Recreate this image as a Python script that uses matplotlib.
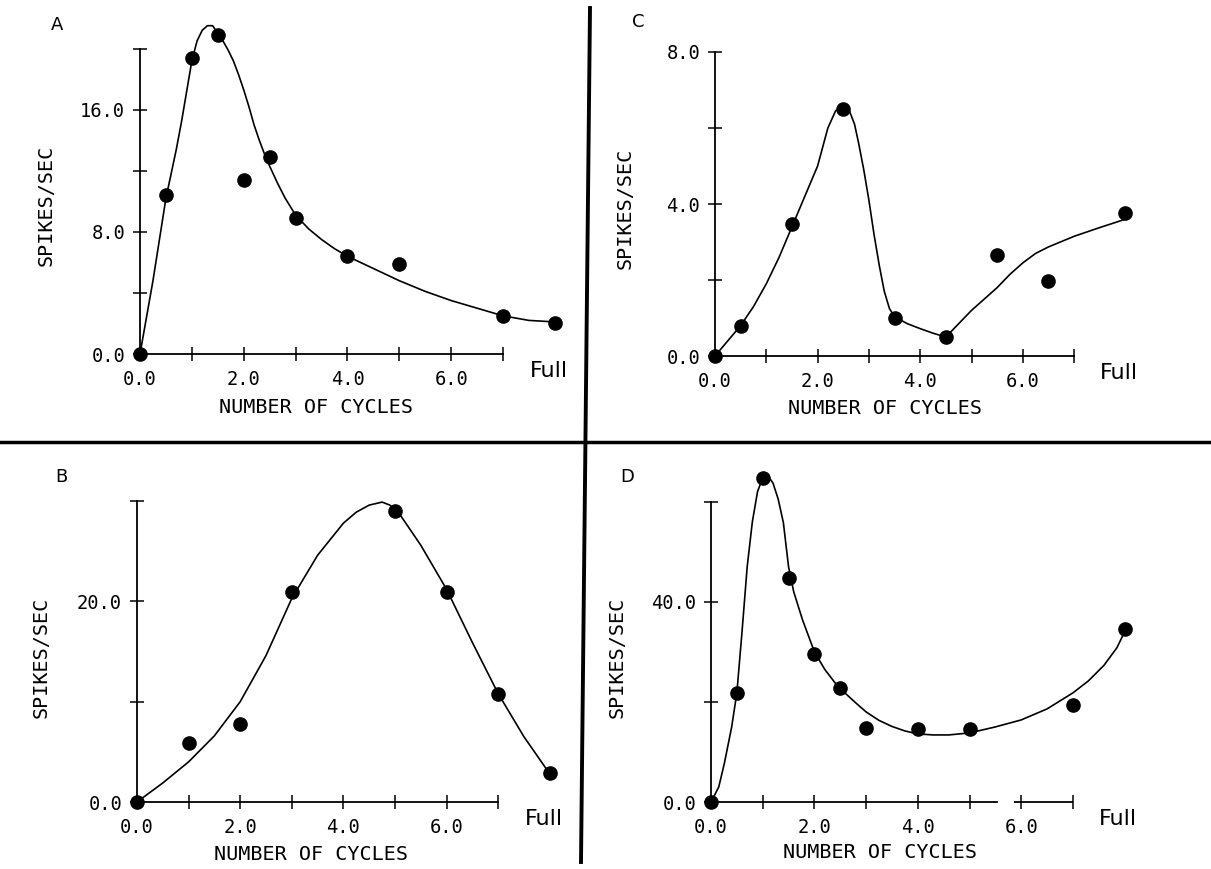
import matplotlib.pyplot as plt
from matplotlib.lines import Line2D

plt.rcParams['font.family'] = ['DejaVu Sans Mono']

W, H = 1211, 869

# ---- data ----
# A
a_pts_x = [0, 0.5, 1, 1.5, 2, 2.5, 3, 4, 5, 7, 8]
a_pts_y = [0, 10.4, 19.4, 20.9, 11.4, 12.9, 8.9, 6.4, 5.9, 2.5, 2.0]
a_fit_x = [0, 0.25, 0.5, 0.6, 0.7, 0.8, 0.9, 1.0, 1.1, 1.2, 1.3, 1.4, 1.5, 1.6,
           1.7, 1.8, 1.9, 2.0, 2.1, 2.2, 2.3, 2.4, 2.5, 2.65, 2.8, 3.0, 3.25,
           3.5, 3.75, 4.0, 4.5, 5.0, 5.5, 6.0, 6.5, 7.0, 7.5, 8.0]
a_fit_y = [0, 4.8, 10.2, 11.8, 13.4, 15.2, 17.2, 19.2, 20.5, 21.2, 21.5, 21.5,
           21.0, 20.5, 19.9, 19.2, 18.3, 17.3, 16.2, 15.0, 14.0, 13.1, 12.3,
           11.2, 10.2, 9.1, 8.2, 7.5, 6.9, 6.4, 5.6, 4.8, 4.1, 3.5, 3.0, 2.5,
           2.2, 2.1]
a_yticks = [0, 4, 8, 12, 16, 20]
a_ylabels = ["0.0", "", "8.0", "", "16.0", ""]

# B
b_pts_x = [0, 1, 2, 3, 5, 6, 7, 8]
b_pts_y = [0, 5.9, 7.75, 20.95, 29.0, 20.95, 10.8, 2.9]
b_fit_x = [0, 0.5, 1.0, 1.5, 2.0, 2.5, 3.0, 3.5, 4.0, 4.25, 4.5, 4.75, 4.9,
           5.05, 5.5, 6.0, 6.5, 7.0, 7.5, 8.0]
b_fit_y = [0, 1.9, 4.0, 6.6, 10.0, 14.6, 20.3, 24.6, 27.8, 28.9, 29.6, 29.9,
           29.6, 29.0, 25.6, 21.2, 15.9, 10.8, 6.5, 2.8]
b_yticks = [0, 10, 20, 30]
b_ylabels = ["0.0", "", "20.0", ""]

# C
c_pts_x = [0, 0.5, 1.5, 2.5, 3.5, 4.5, 5.5, 6.5, 8]
c_pts_y = [0, 0.8, 3.47, 6.51, 1.0, 0.49, 2.67, 1.97, 3.75]
c_fit_x = [0, 0.25, 0.5, 0.75, 1.0, 1.25, 1.5, 1.75, 2.0, 2.2, 2.35, 2.5, 2.62,
           2.72, 2.8, 2.9, 3.0, 3.1, 3.2, 3.3, 3.4, 3.5, 3.75, 4.0, 4.25, 4.5,
           4.75, 5.0, 5.25, 5.5, 5.75, 6.0, 6.25, 6.5, 7.0, 7.5, 8.0]
c_fit_y = [0, 0.4, 0.8, 1.3, 1.9, 2.6, 3.4, 4.2, 5.0, 6.0, 6.45, 6.6, 6.45,
           6.1, 5.6, 4.9, 4.1, 3.2, 2.4, 1.7, 1.25, 1.03, 0.85, 0.72, 0.6,
           0.5, 0.85, 1.2, 1.5, 1.8, 2.15, 2.45, 2.7, 2.87, 3.15, 3.38, 3.6]
c_yticks = [0, 2, 4, 6, 8]
c_ylabels = ["0.0", "", "4.0", "", "8.0"]

# D
d_pts_x = [0, 0.5, 1, 1.5, 2, 2.5, 3, 4, 5, 7, 8]
d_pts_y = [0, 21.8, 64.8, 44.8, 29.6, 22.7, 14.7, 14.6, 14.6, 19.4, 34.5]
d_fit_x = [0, 0.15, 0.26, 0.4, 0.5, 0.6, 0.7, 0.8, 0.9, 1.0, 1.1, 1.2, 1.3,
           1.4, 1.5, 1.6, 1.77, 2.0, 2.2, 2.4, 2.6, 2.8, 3.0, 3.25, 3.5, 3.75,
           4.0, 4.3, 4.6, 5.0, 5.5, 6.0, 6.5, 7.0, 7.3, 7.6, 7.85, 8.0]
d_fit_y = [0, 3.0, 7.8, 15.0, 21.8, 34.0, 47.0, 56.0, 62.0, 64.8, 65.2, 63.7,
           60.5, 55.8, 47.0, 42.0, 36.4, 30.0, 26.5, 23.8, 21.7, 19.8, 18.0,
           16.3, 15.1, 14.2, 13.6, 13.4, 13.4, 13.8, 15.0, 16.4, 18.6, 21.8,
           24.2, 27.3, 30.8, 34.0]
d_yticks = [0, 20, 40, 60]
d_ylabels = ["0.0", "", "40.0", ""]

x_ticks = [0, 1, 2, 3, 4, 5, 6, 7]
x_labels = ["0.0", "", "2.0", "", "4.0", "", "6.0", ""]

# layout (pixels): origin, px per unit, text anchors
panels = [
    dict(letter="A", pts=(a_pts_x, a_pts_y), fit=(a_fit_x, a_fit_y),
         yt=(a_yticks, a_ylabels), o=(140, 354), s=(51.86, 15.27),
         L=(57, 25), xl=(316, 407), yl=(46, 205), gap=None),
    dict(letter="B", pts=(b_pts_x, b_pts_y), fit=(b_fit_x, b_fit_y),
         yt=(b_yticks, b_ylabels), o=(137, 802), s=(51.6, 10.03),
         L=(61, 477), xl=(311, 855), yl=(41, 657), gap=None),
    dict(letter="C", pts=(c_pts_x, c_pts_y), fit=(c_fit_x, c_fit_y),
         yt=(c_yticks, c_ylabels), o=(715, 356), s=(51.3, 38.0),
         L=(638, 22), xl=(885, 408), yl=(625, 208), gap=None),
    dict(letter="D", pts=(d_pts_x, d_pts_y), fit=(d_fit_x, d_fit_y),
         yt=(d_yticks, d_ylabels), o=(711, 802), s=(51.7, 5.005),
         L=(627, 477), xl=(880, 853), yl=(617, 657), gap=(5.53, 5.86)),
]

fig = plt.figure(figsize=(W / 100, H / 100), dpi=100)


def fx(x):
    return x / W


def fy(y):
    return 1 - y / H


for p in panels:
    ox, oy = p["o"]
    sx, sy = p["s"]
    yticks, ylabels = p["yt"]
    ytop = yticks[-1]
    xlim = (-0.3, 8.4)
    ylim = (-0.05 * ytop, ytop * 1.12)
    ax = fig.add_axes([(ox + xlim[0] * sx) / W,
                       (H - oy + ylim[0] * sy) / H,
                       (xlim[1] - xlim[0]) * sx / W,
                       (ylim[1] - ylim[0]) * sy / H])
    ax.set_xlim(xlim)
    ax.set_ylim(ylim)
    ax.patch.set_visible(False)

    for side in ("top", "right"):
        ax.spines[side].set_visible(False)
    for side in ("left", "bottom"):
        ax.spines[side].set_position(("data", 0))
        ax.spines[side].set_linewidth(1.3)
    ax.spines["left"].set_bounds(0, ytop)
    if p["gap"]:
        ax.spines["bottom"].set_bounds(0, p["gap"][0])
        ax.plot([p["gap"][1], 7], [0, 0], color="black", lw=1.3,
                solid_capstyle="butt")
    else:
        ax.spines["bottom"].set_bounds(0, 7)

    ax.set_xticks(x_ticks, x_labels)
    ax.set_yticks(yticks, ylabels)
    ax.tick_params(direction="inout", length=9.5, width=1.1, labelsize=13.5)
    ax.tick_params(axis="x", pad=6.8)
    ax.tick_params(axis="y", pad=6.0)

    fx_, fy_ = p["fit"]
    ax.plot(fx_, fy_, color="black", lw=1.2, clip_on=False,
            solid_joinstyle="round")
    px_, py_ = p["pts"]
    ax.plot(px_, py_, "o", color="black", ms=9.5, clip_on=False)

    ax.annotate("Full", xy=(8, 0), xytext=(-4.5, -12.5),
                textcoords="offset points", ha="center", va="center",
                family="DejaVu Sans", fontsize=16)

    fig.text(fx(p["L"][0]), fy(p["L"][1]), p["letter"], ha="center",
             va="center", family="DejaVu Sans", fontsize=13)
    fig.text(fx(p["xl"][0]), fy(p["xl"][1]), "NUMBER OF CYCLES",
             ha="center", va="center", fontsize=14.5)
    fig.text(fx(p["yl"][0]), fy(p["yl"][1]), "SPIKES/SEC", rotation=90,
             ha="center", va="center", fontsize=14.5)

# quadrant dividers
fig.add_artist(Line2D([fx(590), fx(581)], [fy(8), fy(862)], lw=2.8,
                      color="black"))
fig.add_artist(Line2D([0, 1], [fy(442), fy(442)], lw=2.5, color="black"))

fig.savefig("out.png", dpi=100)
